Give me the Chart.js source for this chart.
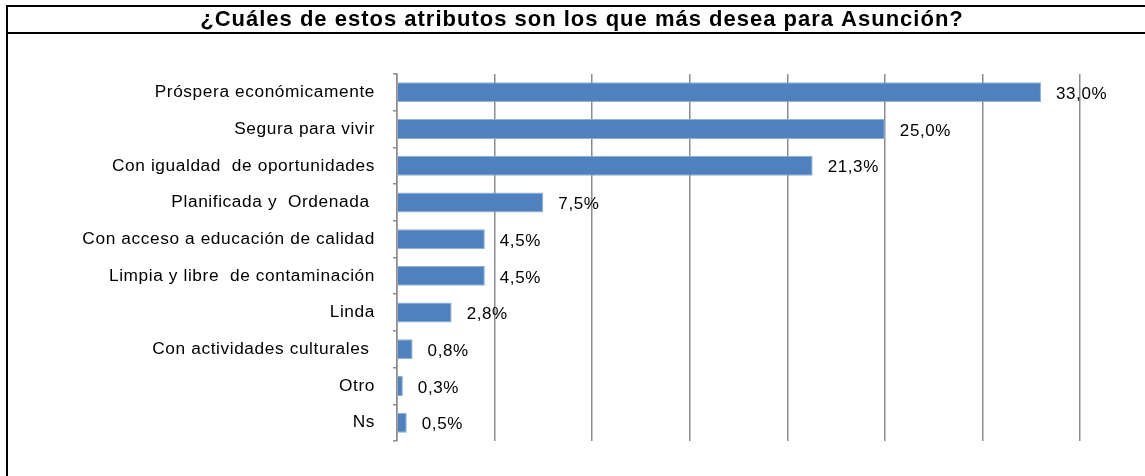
<!DOCTYPE html>
<html>
<head>
<meta charset="utf-8">
<script src="https://cdn.jsdelivr.net/npm/chart.js@4.4.1/dist/chart.umd.min.js"></script>
<style>
  html, body { margin: 0; padding: 0; background: #fff; }
  #wrap { width: 1145px; height: 476px; }
</style>
</head>
<body>
<div id="wrap"><canvas id="chart"></canvas></div>
<script>
const title = '¿Cuáles de estos atributos son los que más desea para Asunción?';
const categories = [
  'Próspera económicamente',
  'Segura para vivir',
  'Con igualdad  de oportunidades',
  'Planificada y  Ordenada ',
  'Con acceso a educación de calidad',
  'Limpia y libre  de contaminación',
  'Linda',
  'Con actividades culturales ',
  'Otro',
  'Ns'
];
const values = [33.0, 25.0, 21.3, 7.5, 4.5, 4.5, 2.8, 0.8, 0.3, 0.5];
const xMax = 35;
const xStep = 5;

const fontFamily = '"Liberation Sans", Arial, sans-serif';

// the source text is drawn a bit wider than plain Arial, so spread it out
const spacingPlugin = {
  id: 'spacing',
  beforeDraw(chart) {
    chart.ctx.letterSpacing = '0.6px';
  }
};

// title and the cell borders around it
const framePlugin = {
  id: 'frame',
  afterDraw(chart) {
    const ctx = chart.ctx;
    ctx.save();
    ctx.strokeStyle = '#000';
    ctx.lineWidth = 2;
    ctx.beginPath();
    ctx.moveTo(7, 476);
    ctx.lineTo(7, 6);
    ctx.lineTo(1145, 6);
    ctx.moveTo(7, 33);
    ctx.lineTo(1145, 33);
    ctx.stroke();

    ctx.letterSpacing = '1px';
    ctx.font = 'bold 22px ' + fontFamily;
    ctx.fillStyle = '#000';
    ctx.textAlign = 'center';
    ctx.textBaseline = 'middle';
    ctx.fillText(title, 582, 20);
    ctx.restore();
  }
};

const labelPlugin = {
  id: 'barLabels',
  afterDatasetsDraw(chart) {
    const ctx = chart.ctx;
    const meta = chart.getDatasetMeta(0);
    ctx.save();
    ctx.font = '17px ' + fontFamily;
    ctx.fillStyle = '#000';
    ctx.textBaseline = 'middle';
    ctx.textAlign = 'left';
    meta.data.forEach((bar, i) => {
      const txt = values[i].toFixed(1).replace('.', ',') + '%';
      ctx.fillText(txt, bar.x + 15, bar.y + 2);
    });
    ctx.restore();
  }
};

new Chart(document.getElementById('chart'), {
  type: 'bar',
  data: {
    labels: categories,
    datasets: [{
      data: values,
      backgroundColor: '#4f81bd',
      borderColor: '#8eaed6',
      borderWidth: 1,
      barPercentage: 0.545,
      categoryPercentage: 1
    }]
  },
  options: {
    indexAxis: 'y',
    responsive: true,
    maintainAspectRatio: false,
    animation: false,
    layout: { padding: { top: 74, right: 65, bottom: 35, left: 0 } },
    plugins: {
      legend: { display: false },
      tooltip: { enabled: false },
      title: { display: false }
    },
    scales: {
      x: {
        min: 0,
        max: xMax,
        ticks: { display: false, stepSize: xStep },
        border: { display: false },
        grid: { color: '#8c8c8c', lineWidth: 1.5, drawTicks: false }
      },
      y: {
        afterFit(scale) { scale.width = 397; },
        ticks: {
          color: '#000',
          padding: 18,
          font: { family: fontFamily, size: 17.3 }
        },
        border: { display: true, color: '#8c8c8c', width: 1.5 },
        grid: {
          offset: true,
          drawOnChartArea: false,
          drawTicks: true,
          tickLength: 4,
          color: '#8c8c8c',
          lineWidth: 1.5
        }
      }
    }
  },
  plugins: [spacingPlugin, framePlugin, labelPlugin]
});
</script>
</body>
</html>
